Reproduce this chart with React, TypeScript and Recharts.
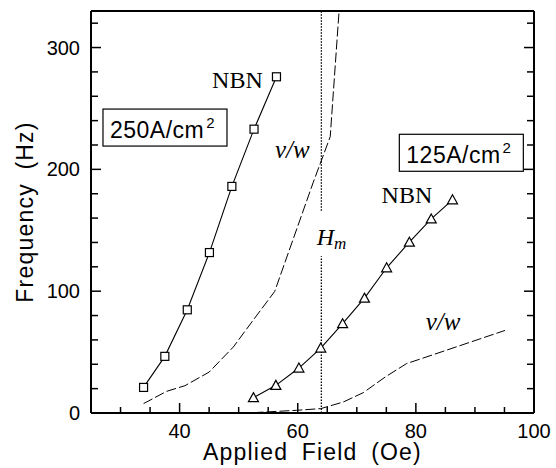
import React from 'react'
import { ComposedChart, Line, XAxis, YAxis, ReferenceLine, ReferenceDot, Label } from 'recharts'

// 250 A/cm2 run
const nbn250 = [
  { x: 33.9, y: 21 }, { x: 37.5, y: 46.5 }, { x: 41.3, y: 84.7 }, { x: 45.05, y: 131.7 },
  { x: 48.85, y: 186 }, { x: 52.6, y: 233 }, { x: 56.4, y: 276 },
]
const vw250 = [
  { x: 33.9, y: 7.7 }, { x: 37.8, y: 17.8 }, { x: 40.9, y: 22.4 }, { x: 45, y: 33.6 },
  { x: 49.1, y: 54.2 }, { x: 52.5, y: 76.5 }, { x: 56.1, y: 99.8 }, { x: 62.6, y: 189 },
  { x: 65.5, y: 226.8 }, { x: 67, y: 330 },
]

// 125 A/cm2 run
const nbn125 = [
  { x: 52.5, y: 12.6 }, { x: 56.3, y: 22.7 }, { x: 60.2, y: 36.9 }, { x: 63.9, y: 53.3 },
  { x: 67.6, y: 73.3 }, { x: 71.3, y: 94.3 }, { x: 75.05, y: 119.2 }, { x: 78.9, y: 140.2 },
  { x: 82.6, y: 159.3 }, { x: 86.2, y: 175 },
]
const vw125 = [
  { x: 52.5, y: 0.3 }, { x: 59.8, y: 2.2 }, { x: 63.9, y: 3.6 }, { x: 67.7, y: 9 },
  { x: 71.1, y: 16.7 }, { x: 74.8, y: 29.5 }, { x: 78.4, y: 40.5 }, { x: 84.6, y: 50.6 },
  { x: 95.1, y: 67.8 },
]

const hm = 64
const hmGap = [128.7, 166]

const xTicks = [30, 35, 40, 45, 50, 55, 60, 65, 70, 75, 80, 85, 90, 95, 100]
const xLabels = [40, 60, 80, 100]
const yTicks = [0, 20, 40, 60, 80, 100, 120, 140, 160, 180, 200, 220, 240, 260, 280, 300, 320]
const yLabels = [0, 100, 200, 300]

const notes = [
  { x: 45.5, y: 266.8, text: 'NBN', kind: 'nbn' },
  { x: 74.2, y: 172.3, text: 'NBN', kind: 'nbn' },
  { x: 56.15, y: 209, text: 'v/w', kind: 'vw' },
  { x: 81.66, y: 68, text: 'v/w', kind: 'vw' },
]
const boxes = [
  { x: 27.03, y: 249.5, text: '250A/cm' },
  { x: 77.2, y: 228.8, text: '125A/cm' },
]
const hmLabel = { x: 63.2, y: 137.8 }

const sans = '"Liberation Sans", Arial, sans-serif'
const serif = '"Liberation Serif", "Times New Roman", serif'

const Square = (p: any) => (
  <rect x={p.cx - 4} y={p.cy - 4} width={8} height={8} fill="#fff" stroke="#000" strokeWidth={1.2} />
)
const Triangle = (p: any) => (
  <path d={`M${p.cx},${p.cy - 5} L${p.cx + 5},${p.cy + 4} L${p.cx - 5},${p.cy + 4} Z`} fill="#fff" stroke="#000" strokeWidth={1.2} />
)

const BottomTick = ({ x, y, payload }: any) => {
  const major = xLabels.includes(payload.value)
  return (
    <g>
      <line x1={x} x2={x} y1={y} y2={y - (major ? 10 : 6)} stroke="#000" strokeWidth={1.5} />
      {major && (
        <text x={x} y={y + 24.5} textAnchor="middle" fontSize={20} fontFamily={sans} fill="#000">
          {payload.value}
        </text>
      )}
    </g>
  )
}
const TopTick = ({ x, y, payload }: any) => {
  const major = xLabels.includes(payload.value)
  return <line x1={x} x2={x} y1={y} y2={y + (major ? 10 : 6)} stroke="#000" strokeWidth={1.5} />
}
const LeftTick = ({ x, y, payload }: any) => {
  const major = yLabels.includes(payload.value)
  return (
    <g>
      <line x1={x} x2={x + (major ? 10 : 7)} y1={y} y2={y} stroke="#000" strokeWidth={1.5} />
      {major && (
        <text x={x - 11} y={y + 7} textAnchor="end" fontSize={20} fontFamily={sans} fill="#000">
          {payload.value}
        </text>
      )}
    </g>
  )
}
const RightTick = ({ x, y, payload }: any) => {
  const major = yLabels.includes(payload.value)
  return <line x1={x} x2={x - (major ? 10 : 7)} y1={y} y2={y} stroke="#000" strokeWidth={1.5} />
}

const axisLine = { stroke: '#000', strokeWidth: 2 }

export default function App() {
  return (
    <div style={{ position: 'absolute', left: 0, top: 0, background: '#fff' }}>
      <ComposedChart width={556} height={468} margin={{ top: 10, right: 21, bottom: 54, left: 90 }}>
        <XAxis type="number" dataKey="x" domain={[25, 100]} ticks={xTicks} interval={0}
          height={1} tickSize={0} tickMargin={0} tickLine={false} tick={<BottomTick />}
          axisLine={axisLine} allowDataOverflow>
          <Label value="Applied Field (Oe)" position="bottom" offset={30}
            style={{ fontFamily: sans, fontSize: 23, letterSpacing: 1.2, wordSpacing: 6, fill: '#000' }} />
        </XAxis>
        <XAxis xAxisId="top" orientation="top" type="number" domain={[25, 100]} ticks={xTicks} interval={0}
          height={1} tickSize={0} tickMargin={0} tickLine={false} tick={<TopTick />}
          axisLine={axisLine} allowDataOverflow />
        <YAxis type="number" domain={[0, 330]} ticks={yTicks} interval={0}
          width={1} tickSize={0} tickMargin={0} tickLine={false} tick={<LeftTick />}
          axisLine={axisLine} allowDataOverflow>
          <Label content={(props: any) => {
            const vb = props.viewBox
            return (
              <text transform={`translate(${vb.x - 57}, ${vb.y + vb.height / 2}) rotate(-90)`} textAnchor="middle"
                fontFamily={sans} fontSize={23} letterSpacing={1.2} wordSpacing={6} fill="#000">
                Frequency (Hz)
              </text>
            )
          }} />
        </YAxis>
        <YAxis yAxisId="right" orientation="right" type="number" domain={[0, 330]} ticks={yTicks} interval={0}
          width={1} tickSize={0} tickMargin={0} tickLine={false} tick={<RightTick />}
          axisLine={axisLine} allowDataOverflow />

        <ReferenceLine segment={[{ x: hm, y: 0 }, { x: hm, y: hmGap[0] }]} stroke="#000" strokeWidth={1.3} strokeDasharray="1.5 1.5" />
        <ReferenceLine segment={[{ x: hm, y: hmGap[1] }, { x: hm, y: 330 }]} stroke="#000" strokeWidth={1.3} strokeDasharray="1.5 1.5" />

        <Line data={vw250} dataKey="y" type="linear" stroke="#000" strokeWidth={1} strokeDasharray="10 3" dot={false} isAnimationActive={false} />
        <Line data={vw125} dataKey="y" type="linear" stroke="#000" strokeWidth={1} strokeDasharray="10 3" dot={false} isAnimationActive={false} />
        <Line data={nbn250} dataKey="y" type="linear" stroke="#000" strokeWidth={1.1} dot={<Square />} isAnimationActive={false} />
        <Line data={nbn125} dataKey="y" type="linear" stroke="#000" strokeWidth={1.1} dot={<Triangle />} isAnimationActive={false} />

        {notes.map((n, i) => (
          <ReferenceDot key={'n' + i} x={n.x} y={n.y} r={0} shape={(p: any) => (
            <text x={p.cx} y={p.cy} fontFamily={serif} fontSize={n.kind === 'nbn' ? 24 : 25}
              fontStyle={n.kind === 'vw' ? 'italic' : 'normal'} fill="#000">{n.text}</text>
          )} />
        ))}
        <ReferenceDot x={hmLabel.x} y={hmLabel.y} r={0} shape={(p: any) => (
          <text x={p.cx} y={p.cy} fontFamily={serif} fontStyle="italic" fontSize={24} fill="#000">
            H<tspan fontSize={17} dy={4}>m</tspan>
          </text>
        )} />
        {boxes.map((b, i) => (
          <ReferenceDot key={'b' + i} x={b.x} y={b.y} r={0} shape={(p: any) => (
            <g>
              <rect x={p.cx} y={p.cy} width={124} height={37} fill="#fff" stroke="#000" strokeWidth={1.2} />
              <text x={p.cx + 7} y={p.cy + 28.5} fontFamily={sans} fontSize={23} letterSpacing={0.5} fill="#000">
                {b.text}<tspan fontSize={15} dy={-10} dx={2}>2</tspan>
              </text>
            </g>
          )} />
        ))}
      </ComposedChart>
    </div>
  )
}
